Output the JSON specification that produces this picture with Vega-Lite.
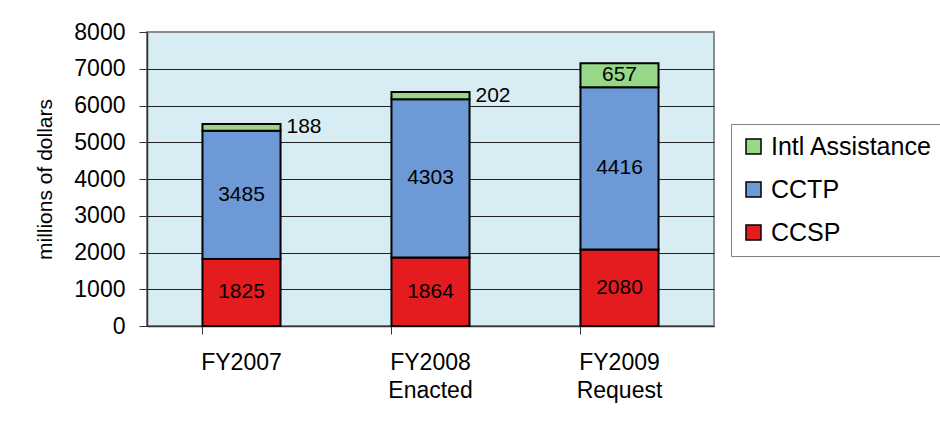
{
  "$schema": "https://vega.github.io/schema/vega-lite/v6.json",
  "width": 567,
  "height": 294,
  "autosize": {"type": "none"},
  "padding": {"left": 147, "top": 32, "right": 226, "bottom": 98},
  "background": "white",
  "config": {
    "font": "Liberation Sans",
    "view": {"fill": "#d7edf3", "stroke": "#8c8c8c", "strokeWidth": 2},
    "axisY": {
      "format": "d",
      "labelOverlap": false,
      "titleFontSize": 21,
      "titleFontWeight": "normal",
      "titleColor": "black",
      "titlePadding": 18,
      "labelFontSize": 23,
      "labelColor": "black",
      "labelPadding": 14,
      "tickSize": 8,
      "tickColor": "#333333",
      "domainColor": "#333333",
      "domainWidth": 1.5,
      "grid": true,
      "gridOpacity": 1
    }
  },
  "data": {
    "values": [
      {"year": "FY2007", "program": "CCSP", "value": 1825, "order": 1},
      {"year": "FY2007", "program": "CCTP", "value": 3485, "order": 2},
      {"year": "FY2007", "program": "Intl Assistance", "value": 188, "order": 3},
      {"year": "FY2008 Enacted", "program": "CCSP", "value": 1864, "order": 1},
      {"year": "FY2008 Enacted", "program": "CCTP", "value": 4303, "order": 2},
      {"year": "FY2008 Enacted", "program": "Intl Assistance", "value": 202, "order": 3},
      {"year": "FY2009 Request", "program": "CCSP", "value": 2080, "order": 1},
      {"year": "FY2009 Request", "program": "CCTP", "value": 4416, "order": 2},
      {"year": "FY2009 Request", "program": "Intl Assistance", "value": 657, "order": 3}
    ]
  },
  "transform": [
    {"stack": "value", "groupby": ["year"], "sort": [{"field": "order"}], "as": ["v0", "v1"]},
    {"calculate": "(datum.v0 + datum.v1) / 2", "as": "mid"}
  ],
  "encoding": {
    "x": {
      "field": "year",
      "type": "nominal",
      "sort": ["FY2007", "FY2008 Enacted", "FY2009 Request"],
      "scale": {"paddingInner": 0.587, "paddingOuter": 0.2935},
      "axis": {
        "title": null,
        "labelAngle": 0,
        "labelExpr": "split(datum.label, ' ')",
        "labelFontSize": 23,
        "labelLineHeight": 28,
        "labelColor": "black",
        "labelPadding": 17,
        "bandPosition": 0,
        "tickSize": 8,
        "tickColor": "#333333",
        "domainColor": "#333333",
        "domainWidth": 1.5,
        "grid": false
      }
    }
  },
  "layer": [
    {
      "mark": {"type": "bar", "stroke": "black", "strokeWidth": 2},
      "encoding": {
        "y": {
          "field": "v0",
          "type": "quantitative",
          "scale": {"domain": [0, 8000], "nice": false},
          "axis": {
            "title": "millions of dollars",
            "titleFontSize": 21,
            "values": [0, 1000, 2000, 3000, 4000, 5000, 6000, 7000, 8000],
            "gridColor": {"condition": {"test": "datum.value == 8000", "value": "#8c8c8c"}, "value": "#222222"}
          }
        },
        "y2": {"field": "v1"},
        "color": {
          "field": "program",
          "type": "nominal",
          "scale": {
            "domain": ["Intl Assistance", "CCTP", "CCSP"],
            "range": ["#96d888", "#6d9ad6", "#e41c1f"]
          },
          "legend": {
            "title": null,
            "orient": "none",
            "legendX": 584,
            "legendY": 92,
            "direction": "vertical",
            "symbolType": "square",
            "symbolSize": 225,
            "symbolStrokeColor": "black",
            "symbolStrokeWidth": 1.5,
            "labelFontSize": 25,
            "labelLimit": 400,
            "labelColor": "black",
            "labelOffset": 5,
            "rowPadding": 17,
            "padding": 10,
            "strokeColor": "#808080",
            "fillColor": "white"
          }
        }
      }
    },
    {
      "transform": [{"filter": "datum.value >= 300"}],
      "mark": {"type": "text", "fontSize": 21, "color": "black"},
      "encoding": {
        "y": {
          "field": "mid",
          "type": "quantitative",
          "axis": {
            "title": "millions of dollars",
            "titleFontSize": 21,
            "values": [0, 1000, 2000, 3000, 4000, 5000, 6000, 7000, 8000],
            "gridColor": {"condition": {"test": "datum.value == 8000", "value": "#8c8c8c"}, "value": "#222222"}
          }
        },
        "text": {"field": "value", "type": "quantitative", "format": "d"}
      }
    },
    {
      "transform": [{"filter": "datum.value < 300"}],
      "mark": {"type": "text", "fontSize": 21, "color": "black", "align": "left", "dx": 45},
      "encoding": {
        "y": {
          "field": "mid",
          "type": "quantitative",
          "axis": {
            "title": "millions of dollars",
            "titleFontSize": 21,
            "values": [0, 1000, 2000, 3000, 4000, 5000, 6000, 7000, 8000],
            "gridColor": {"condition": {"test": "datum.value == 8000", "value": "#8c8c8c"}, "value": "#222222"}
          }
        },
        "text": {"field": "value", "type": "quantitative", "format": "d"}
      }
    }
  ]
}
